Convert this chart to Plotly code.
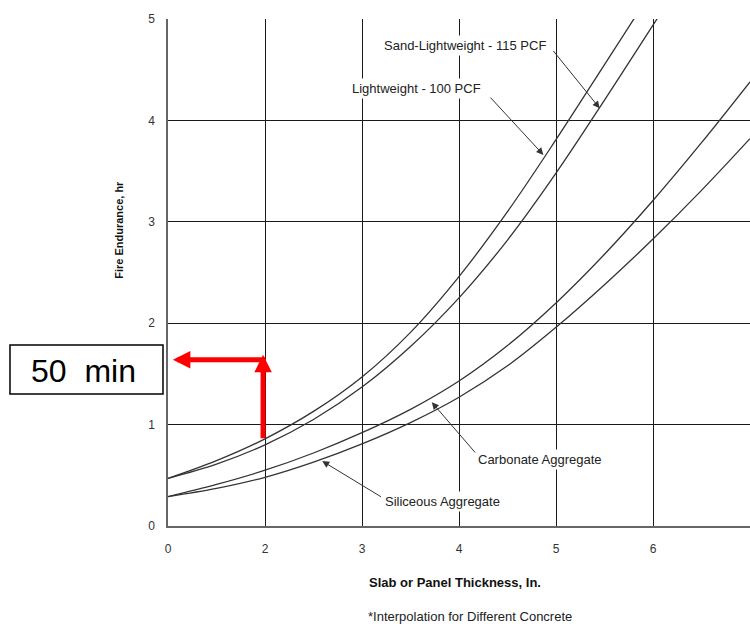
import plotly.graph_objects as go

# ---- data (x positions on the grid: 1 = first gridline labelled "0") ----
tick_vals = [1, 2, 3, 4, 5, 6, 7]
tick_text = ["0", "2", "3", "4", "5", "6", "7"]
y_ticks = [0, 1, 2, 3, 4, 5]

lw_x = [1.0, 1.5, 2.0, 2.5, 3.0, 3.5, 4.0, 4.5, 5.0, 5.5, 5.85]
lw_y = [0.47, 0.645, 0.86, 1.13, 1.47, 1.91, 2.46, 3.10, 3.81, 4.55, 5.07]

slw_x = [1.0, 1.5, 2.0, 2.5, 3.0, 3.5, 4.0, 4.5, 5.0, 5.5, 6.0, 6.15]
slw_y = [0.47, 0.61, 0.80, 1.05, 1.37, 1.77, 2.25, 2.82, 3.48, 4.20, 4.94, 5.16]

agg_x = [1.0, 1.5, 2.0, 2.5, 3.0, 3.5, 4.0, 4.5, 5.0, 5.5, 6.0, 6.5, 7.0]
carb_y = [0.29, 0.41, 0.55, 0.72, 0.92, 1.15, 1.43, 1.78, 2.20, 2.68, 3.21, 3.78, 4.38]
sil_y = [0.29, 0.37, 0.48, 0.63, 0.81, 1.02, 1.27, 1.58, 1.96, 2.38, 2.83, 3.31, 3.82]

FONT = "Liberation Sans, Arial, sans-serif"
CURVE = dict(color="#333333", width=1.3, shape="spline", smoothing=1)

fig = go.Figure()
for xs, ys, name in [(lw_x, lw_y, "Lightweight - 100 PCF"),
                     (slw_x, slw_y, "Sand-Lightweight - 115 PCF"),
                     (agg_x, carb_y, "Carbonate Aggregate"),
                     (agg_x, sil_y, "Siliceous Aggregate")]:
    fig.add_trace(go.Scatter(x=xs, y=ys, mode="lines", line=CURVE, name=name,
                             showlegend=False, hoverinfo="skip"))

ann = []
# curve labels with leader arrows
labels = [
    ("Sand-Lightweight - 115 PCF", 4.06, 4.74, 4.96, 4.70, 5.45, 4.12),
    ("Lightweight - 100 PCF", 3.56, 4.31, 4.31, 4.24, 4.87, 3.66),
    ("Carbonate Aggregate", 4.83, 0.66, 4.18, 0.71, 3.72, 1.22),
    ("Siliceous Aggregate", 3.83, 0.24, 3.21, 0.28, 2.59, 0.64),
]
for txt, tx, ty, axv, ayv, hx, hy in labels:
    ann.append(dict(x=tx, y=ty, xref="x", yref="y", text=txt, showarrow=False,
                    xanchor="center", yanchor="middle",
                    font=dict(family=FONT, size=13, color="#222"),
                    bgcolor="white", borderpad=2))
    ann.append(dict(x=hx, y=hy, ax=axv, ay=ayv, xref="x", yref="y",
                    axref="x", ayref="y", text="", showarrow=True,
                    arrowhead=2, arrowsize=1.4, arrowwidth=1, arrowcolor="#333"))

# red arrows
ann.append(dict(x=1.98, y=1.69, ax=1.98, ay=0.85, xref="x", yref="y",
                axref="x", ayref="y", text="", showarrow=True,
                arrowhead=2, arrowsize=0.7, arrowwidth=5, arrowcolor="#ff0000"))
ann.append(dict(x=1.05, y=1.64, ax=2.02, ay=1.64, xref="x", yref="y",
                axref="x", ayref="y", text="", showarrow=True,
                arrowhead=2, arrowsize=0.7, arrowwidth=5, arrowcolor="#ff0000"))

# 50 min box text
ann.append(dict(x=-0.1452, y=0.305, xref="paper", yref="paper",
                xanchor="center", yanchor="middle",
                text="50\u00a0\u00a0min", showarrow=False,
                font=dict(family=FONT, size=32, color="black")))

# axis titles & footnote
ann.append(dict(x=-0.0835, y=0.585, xref="paper", yref="paper", text="<b>Fire Endurance, hr</b>",
                xanchor="center", yanchor="middle",
                textangle=-90, showarrow=False, font=dict(family=FONT, size=11, color="#111")))
ann.append(dict(x=0.493, y=-0.112, xref="paper", yref="paper",
                xanchor="center", yanchor="middle",
                text="<b>Slab or Panel Thickness, In.</b>", showarrow=False,
                font=dict(family=FONT, size=13, color="#111")))
ann.append(dict(x=0.519, y=-0.179, xref="paper", yref="paper",
                xanchor="center", yanchor="middle",
                text="*Interpolation for Different Concrete", showarrow=False,
                font=dict(family=FONT, size=13, color="#222")))

fig.update_layout(
    width=750, height=624,
    margin=dict(l=168, r=0, t=19, b=98),
    paper_bgcolor="white", plot_bgcolor="white",
    annotations=ann,
    shapes=[dict(type="rect", xref="paper", yref="paper",
                 x0=-0.2715, x1=-0.0086, y0=0.2604, y1=0.357,
                 line=dict(color="black", width=1.5), fillcolor="rgba(0,0,0,0)")],
    showlegend=False,
)
fig.update_xaxes(range=[1, 7], tickvals=tick_vals, ticktext=tick_text,
                 showgrid=True, gridcolor="#1a1a1a", gridwidth=1,
                 zeroline=False, showline=True, linecolor="#666", linewidth=1.5,
                 ticks="", ticklabelstandoff=11,
                 tickfont=dict(family=FONT, size=12, color="#333"))
fig.update_yaxes(range=[0, 5], tickvals=y_ticks,
                 showgrid=True, gridcolor="#1a1a1a", gridwidth=1,
                 zeroline=False, showline=True, linecolor="#666", linewidth=1.5,
                 ticks="", ticklabelstandoff=9,
                 tickfont=dict(family=FONT, size=12, color="#333"))

fig.write_html("out.html", config={"displayModeBar": False},
               post_script="document.body.style.margin='0';document.body.style.overflow='hidden';")
